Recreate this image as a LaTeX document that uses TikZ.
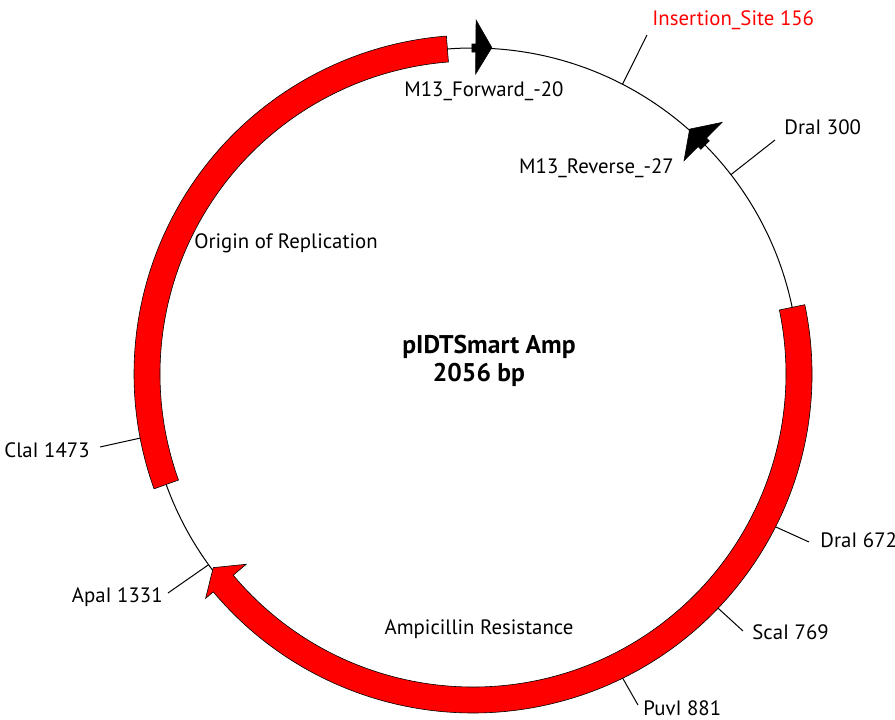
\documentclass[tikz,border=0pt]{standalone}
\usepackage{fontspec}
\setmainfont{PT Sans}
\definecolor{bandred}{RGB}{255,0,0}
\definecolor{sitered}{RGB}{255,0,0}

\begin{document}
\begin{tikzpicture}[x=0.5pt,y=0.5pt,
  feature/.style={fill=bandred,draw=black,line width=0.3pt},
  primer/.style={fill=black,draw=black,line width=0.3pt},
  tick/.style={draw=black,line width=0.5pt},
  lbl/.style={font=\fontsize{10.4}{12}\selectfont,inner sep=0pt},
  title/.style={font=\fontsize{12.8}{15}\selectfont\bfseries,inner sep=0pt}]
\useasboundingbox (-473,-345) rectangle (422,374);

% backbone
\draw[line width=0.5pt] (0,0) circle[radius=326];

%features
\draw[feature] (94.5:339) arc[start angle=94.5,end angle=199.8,radius=339]
  -- (199.8:313) arc[start angle=199.8,end angle=94.5,radius=313] -- cycle;
\draw[feature] (11.8:339) arc[start angle=11.8,end angle=-140,radius=339]
  -- (-140:349) -- (-143.3:324) -- (-140:296)
  -- (-140:313) arc[start angle=-140,end angle=11.8,radius=313] -- cycle;

%primers
\draw[primer] (90.2:330) arc[start angle=90.2,end angle=89.5,radius=330]
  -- (89.5:354) -- (86.7:327) -- (89.5:300)
  -- (89.5:322) arc[start angle=89.5,end angle=90.2,radius=322] -- cycle;
\draw[primer] (44.6:332) arc[start angle=44.6,end angle=45.3,radius=332]
  -- (45.3:354) -- (48.5:327) -- (45.3:300)
  -- (45.3:320) arc[start angle=45.3,end angle=44.6,radius=320] -- cycle;

%sites
\coordinate (ins) at (62.7:326);
\coordinate (insend) at (174,339);
\coordinate (dra300) at (37.7:326);
\coordinate (dra300end) at (302,234);
\coordinate (dra672) at (-26.8:339);
\coordinate (dra672end) at (336,-168);
\coordinate (sca769) at (-43.7:339);
\coordinate (sca769end) at (270,-257);
\coordinate (puv881) at (-63.8:339);
\coordinate (puv881end) at (165,-331);
\coordinate (apa1331) at (-144.2:326);
\coordinate (apa1331end) at (-305,-219);
\coordinate (cla1473) at (-169.1:339);
\coordinate (cla1473end) at (-373,-73);

\node[lbl,anchor=west,text=sitered] (lins) at (179,354) {Insertion\_Site 156};
\node[lbl,anchor=west] (ldra300) at (311,247) {DraI 300};
\node[lbl,anchor=west] (ldra672) at (347,-166) {DraI 672};
\node[lbl,anchor=west] (lsca769) at (279,-258) {ScaI 769};
\node[lbl,anchor=west] (lpuv881) at (170,-334) {PuvI 881};
\node[lbl,anchor=east] (lapa1331) at (-310,-223) {ApaI 1331};
\node[lbl,anchor=east] (lcla1473) at (-383,-76) {ClaI 1473};

\draw[tick] (ins) -- (insend);
\draw[tick] (dra300) -- (dra300end);
\draw[tick] (dra672) -- (dra672end);
\draw[tick] (sca769) -- (sca769end);
\draw[tick] (puv881) -- (puv881end);
\draw[tick] (apa1331) -- (apa1331end);
\draw[tick] (cla1473) -- (cla1473end);

\node[lbl] (lfwd) at (11,283) {M13\_Forward\_-20};
\node[lbl] (lrev) at (123.5,206) {M13\_Reverse\_-27};
\node[lbl] (lori) at (-187,131) {Origin of Replication};
\node[lbl] (lamp) at (6,-255) {Ampicillin Resistance};

\node[title] (name) at (16,27) {pIDTSmart Amp};
\node[title] (size) at (6,-1) {2056 bp};
\end{tikzpicture}
\end{document}
